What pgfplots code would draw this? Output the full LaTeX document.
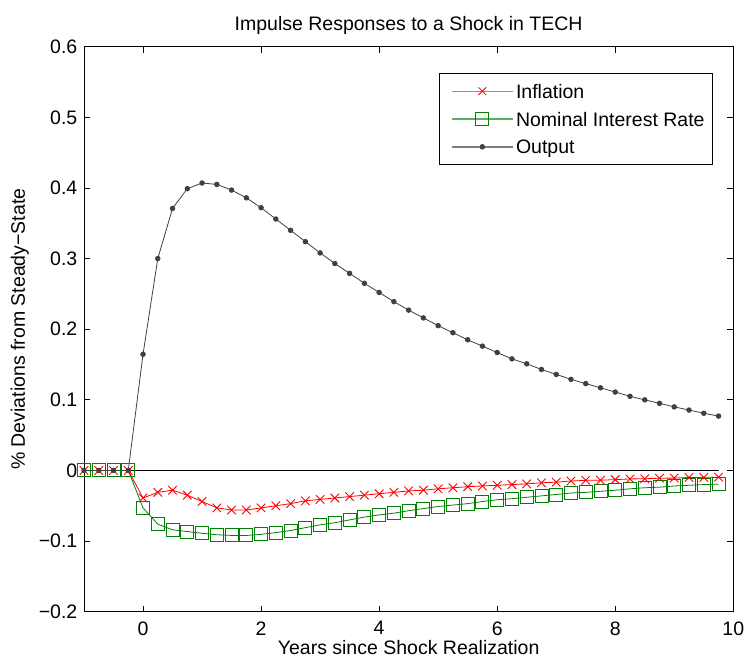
\documentclass[border=0pt]{standalone}
\usepackage{pgfplots}
\pgfplotsset{compat=1.18}
\usepackage{pgfplotstable}
\usepackage{fontspec}
\setmainfont{Liberation Sans}
\definecolor{mred}{RGB}{255,0,0}
\definecolor{mgreen}{RGB}{0,128,0}
\definecolor{mgray}{RGB}{64,64,64}
\definecolor{lred}{RGB}{255,100,100}
\definecolor{lgreen}{RGB}{90,175,90}
\definecolor{lgray}{RGB}{125,125,125}
\newcommand\legline[1]{%
  \pgfpathmoveto{\pgfpoint{0pt}{0pt}}\pgfpathlineto{\pgfpoint{4.3pt}{0pt}}\pgfusepath{}%
  \begin{pgfscope}\pgfsetstrokecolor{#1}\pgfsetlinewidth{1.4pt}%
  \pgfpathmoveto{\pgfpoint{4.3pt}{0pt}}\pgfpathlineto{\pgfpoint{65.3pt}{0pt}}\pgfusepath{stroke}\end{pgfscope}}

\pgfplotstableread{
x infl rate out
-1 0 0 0
-0.75 0 0 0
-0.5 0 0 0
-0.25 0 0 0
0 -0.039 -0.053 0.1645
0.25 -0.031 -0.076 0.300
0.5 -0.028 -0.084 0.371
0.75 -0.035 -0.0865 0.399
1.0 -0.044 -0.089 0.407
1.25 -0.053 -0.091 0.405
1.5 -0.056 -0.092 0.397
1.75 -0.056 -0.092 0.386
2.0 -0.053 -0.0905 0.372
2.25 -0.050 -0.088 0.356
2.5 -0.047 -0.085 0.340
2.75 -0.043 -0.081 0.324
3.0 -0.041 -0.077 0.308
3.25 -0.039 -0.074 0.293
3.5 -0.037 -0.070 0.279
3.75 -0.035 -0.066 0.265
4.0 -0.033 -0.063 0.252
4.25 -0.031 -0.0605 0.239
4.5 -0.029 -0.057 0.227
4.75 -0.028 -0.054 0.216
5.0 -0.026 -0.051 0.205
5.25 -0.0245 -0.049 0.195
5.5 -0.023 -0.047 0.185
5.75 -0.022 -0.044 0.176
6.0 -0.021 -0.0415 0.167
6.25 -0.020 -0.040 0.158
6.5 -0.019 -0.038 0.151
6.75 -0.0175 -0.036 0.143
7.0 -0.0166 -0.034 0.136
7.25 -0.015 -0.032 0.129
7.5 -0.014 -0.031 0.123
7.75 -0.0138 -0.0295 0.117
8.0 -0.013 -0.028 0.111
8.25 -0.012 -0.026 0.105
8.5 -0.0118 -0.0245 0.100
8.75 -0.011 -0.0237 0.095
9.0 -0.0108 -0.022 0.090
9.25 -0.010 -0.021 0.0855
9.5 -0.0098 -0.020 0.081
9.75 -0.0095 -0.0195 0.077
}\irdata

\begin{document}
\begin{tikzpicture}
\begin{axis}[
  scale only axis, width=649.3pt, height=565pt,
  xmin=-1, xmax=10, ymin=-0.2, ymax=0.6,
  clip=false,
  xtick={0,2,4,6,8,10},
  xticklabels={0,2,4,6,8,10},
  ytick={-0.2,-0.1,0,0.1,0.2,0.3,0.4,0.5,0.6},
  yticklabels={−0.2,−0.1,0,0.1,0.2,0.3,0.4,0.5,0.6},
  tick align=inside, xtick pos=both, ytick pos=both,
  major tick length=6pt, minor tick num=0,
  axis line style={line width=0.9pt, black},
  every tick/.style={black, line width=0.8pt},
  font=\fontsize{19.5}{23}\selectfont,
  xticklabel style={anchor=north, inner sep=0pt, yshift=-9.5pt},
  yticklabel style={anchor=east, inner sep=0pt, xshift=-6.5pt},
  every axis title shift=0pt,
  title={Impulse Responses to a Shock in TECH},
  title style={at={(axis description cs:0.5,1)}, anchor=base, yshift=16pt, inner sep=0pt},
  xlabel={Years since Shock Realization},
  xlabel style={at={(axis description cs:0.5,0)}, anchor=north, yshift=-28pt, inner sep=0pt},
  ylabel={\% Deviations from Steady−State},
  ylabel style={at={(axis description cs:-0.0847,0.5)}, anchor=south, inner sep=0pt},
  legend style={at={(0.9683,0.9529)}, anchor=north east, line width=0.8pt,
    fill=white, font=\fontsize{19.5}{23}\selectfont,
    inner xsep=7.7pt, inner ysep=10.5pt,
    nodes={inner sep=0pt, text height=14pt, text depth=0pt},
    row sep=13.8pt,
    /tikz/every odd column/.append style={column sep=2.5pt}},
  legend cell align=left,
]
\addplot[black, line width=0.8pt, forget plot] coordinates {(-1,0) (9.75,0)};
\addplot[mgreen, line width=0.8pt, mark=square, mark size=6.5pt, mark options={solid, line width=0.9pt}, forget plot] table[x=x, y=rate] {\irdata};
\addplot[mred, line width=0.8pt, mark=x, mark size=6pt, mark options={solid, line width=0.9pt}, forget plot] table[x=x, y=infl] {\irdata};
\addplot[mgray, line width=0.8pt, mark=*, mark size=2.3pt, mark options={solid, fill=mgray, draw=mgray}, forget plot] table[x=x, y=out] {\irdata};
\addlegendimage{legend image code/.code={%
  \legline{lred}%
  \draw[draw=mred, line width=0.8pt] plot[mark=x, mark size=5.5pt] coordinates {(34.8pt,0pt)};}}
\addlegendentry{Inflation}
\addlegendimage{legend image code/.code={%
  \legline{lgreen}%
  \draw[draw=mgreen, line width=0.8pt] plot[mark=square, mark size=6.5pt] coordinates {(34.8pt,0pt)};}}
\addlegendentry{Nominal Interest Rate}
\addlegendimage{legend image code/.code={%
  \legline{lgray}%
  \draw[draw=mgray, fill=mgray, line width=0.8pt] plot[mark=*, mark size=2.3pt] coordinates {(34.8pt,0pt)};}}
\addlegendentry{Output}
\end{axis}
\pgfresetboundingbox
\path ([xshift=-84pt,yshift=-51.3pt]current axis.south west) rectangle ([xshift=663pt,yshift=611.7pt]current axis.south west);
\end{tikzpicture}
\end{document}
